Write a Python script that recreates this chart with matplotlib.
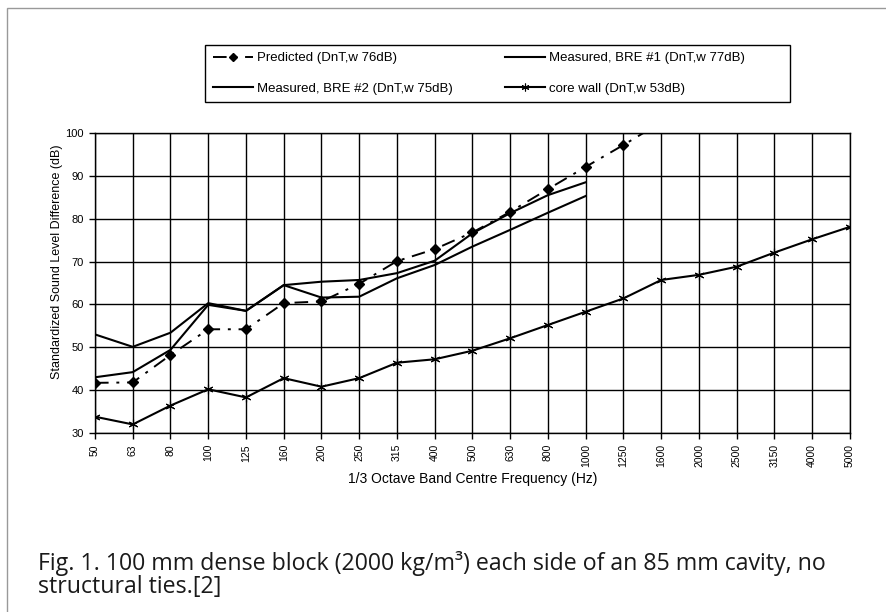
import numpy as np
import matplotlib
matplotlib.use('Agg')
import matplotlib.pyplot as plt
from matplotlib.patches import Rectangle

plt.rcParams['font.family'] = ['Liberation Sans', 'DejaVu Sans']

# 1/3 octave band centre frequencies (Hz)
freqs = ['50', '63', '80', '100', '125', '160', '200', '250', '315', '400',
         '500', '630', '800', '1000', '1250', '1600', '2000', '2500', '3150',
         '4000', '5000']

# values (dB)
predicted = [41.7, 41.8, 48.2, 54.2, 54.2, 60.3, 60.7, 64.8, 70.1, 72.9,
             76.8, 81.6, 86.9, 92.1, 97.2, 102.5]
bre1 = [43.0, 44.2, 49.4, 59.9, 58.5, 64.5, 65.3, 65.7, 67.3, 70.2,
        76.6, 81.3, 85.5, 88.5]
bre2 = [53.0, 50.1, 53.4, 60.3, 58.5, 64.5, 61.6, 61.8, 66.1, 69.2,
        73.5, 77.4, 81.4, 85.3]
core_wall = [33.8, 32.0, 36.4, 40.2, 38.3, 42.8, 40.8, 42.8, 46.4, 47.2,
             49.2, 52.1, 55.2, 58.3, 61.4, 65.7, 66.9, 68.8, 72.1, 75.2, 78.1]

fig = plt.figure(figsize=(8.86, 6.12), dpi=100)
ax = fig.add_axes([0.1072, 0.2925, 0.8521, 0.4902])

x = np.arange(len(freqs))
lp, = ax.plot(x[:len(predicted)], predicted, color='black', lw=1.4,
              dashes=(7, 4, 1.5, 4), marker='D', ms=5, zorder=4)
l1, = ax.plot(x[:len(bre1)], bre1, color='black', lw=1.5, zorder=3)
l2, = ax.plot(x[:len(bre2)], bre2, color='black', lw=1.5, zorder=3)
lc, = ax.plot(x, core_wall, color='black', lw=1.5, marker=(6, 2, 0),
              ms=7, mew=0.8, zorder=3)

ax.set_xlim(0, len(freqs) - 1)
ax.set_ylim(30, 100)
ax.set_xticks(x)
ax.set_xticklabels(freqs, rotation=90, fontsize=7.5)
ax.set_yticks(np.arange(30, 101, 10))
ax.tick_params(axis='y', labelsize=8, length=4, width=1, direction='out', pad=4)
ax.tick_params(axis='x', length=4, width=1, direction='out', pad=4)
ax.grid(True, color='black', lw=1)
ax.set_axisbelow(True)
for s in ax.spines.values():
    s.set_linewidth(1)

ax.set_ylabel('Standardized Sound Level Difference (dB)', fontsize=9)
ax.yaxis.set_label_coords(-0.042, 0.57)
ax.set_xlabel('1/3 Octave Band Centre Frequency (Hz)', fontsize=10, labelpad=3)

# legend: row1 Predicted / BRE #1, row2 BRE #2 / core wall
handles = [lp, l2, l1, lc]
labels = ['Predicted (DnT,w 76dB)', 'Measured, BRE #2 (DnT,w 75dB)',
          'Measured, BRE #1 (DnT,w 77dB)', 'core wall (DnT,w 53dB)']
leg = fig.legend(handles, labels, ncol=2, loc='upper left',
                 bbox_to_anchor=(213 / 886, 1 - 52 / 612), borderaxespad=0,
                 fontsize=9.5, frameon=False, handlelength=3.0,
                 handletextpad=0.3, columnspacing=4.0, borderpad=0,
                 labelspacing=1.4, markerscale=0.8)
# legend box drawn separately (wider than its contents, as in the original)
fig.patches.append(Rectangle((205 / 886, 1 - 102 / 612), 585 / 886, 57 / 612,
                             transform=fig.transFigure, fill=False,
                             edgecolor='black', lw=1))

# thin border around the figure
fig.patches.append(Rectangle((0.008, -0.01), 1.1, 0.997, transform=fig.transFigure,
                             fill=False, edgecolor='#999999', lw=1))

cap_font = ['Open Sans', 'DejaVu Sans']
fig.text(0.043, 1 - 570 / 612,
         'Fig. 1. 100 mm dense block (2000 kg/m\u00b3) each side of an 85 mm cavity, no',
         fontsize=16.7, family=cap_font, color='#1a1a1a', ha='left', va='baseline')
fig.text(0.043, 1 - 593 / 612, 'structural ties.[2]',
         fontsize=16.7, family=cap_font, color='#1a1a1a', ha='left', va='baseline')

fig.savefig('out.png', dpi=100)
